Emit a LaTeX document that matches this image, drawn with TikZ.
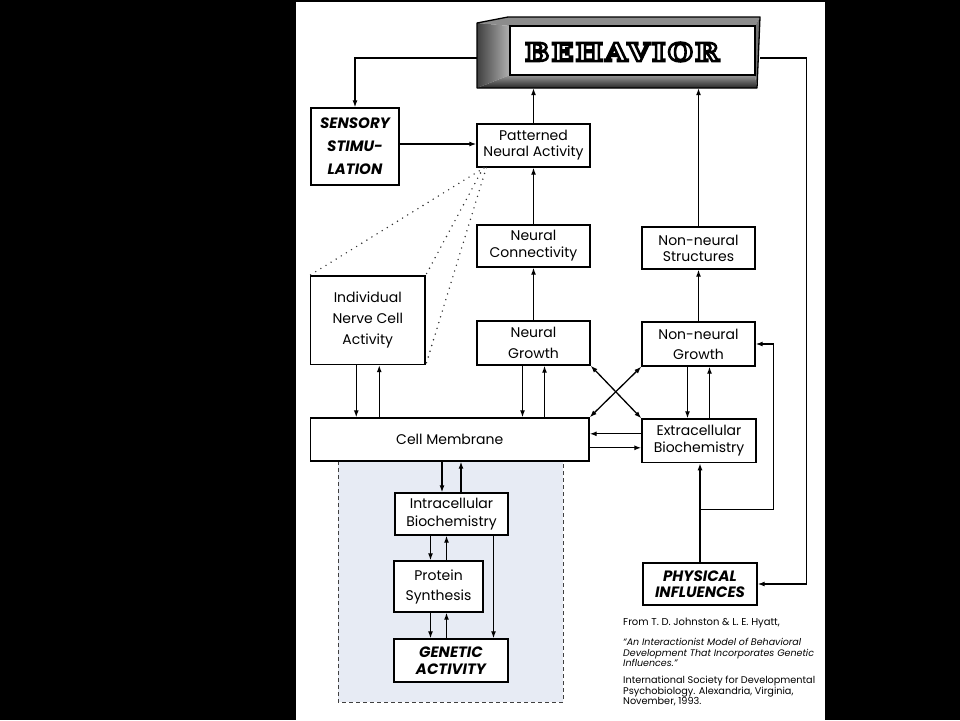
\documentclass[tikz,border=0pt]{standalone}
\usepackage{fontspec}
\setmainfont{Poppins}
\newfontfamily\behfont[FakeStretch=1.15, LetterSpace=9]{DejaVu Serif}
\usetikzlibrary{arrows.meta, positioning, calc}

\definecolor{regionblue}{HTML}{E7EBF4}

\begin{document}
\begin{tikzpicture}[x=1pt, y=-1pt,
    box/.style={rectangle, draw, line width=1.4pt, fill=white, align=center, inner sep=0pt, font=\fontsize{14}{17}\selectfont},
    caps/.style={box, font=\fontsize{15}{17}\selectfont\bfseries\itshape},
    arrow/.style={-{Latex[length=7pt, width=5pt]}, line width=1.3pt},
    darrow/.style={{Latex[length=7pt, width=5pt]}-{Latex[length=7pt, width=5pt]}, line width=1.3pt},
    dotted_line/.style={line width=1.6pt, dash pattern=on 0pt off 6pt, line cap=round, black!80},
    beh_text/.style={font=\behfont\bfseries\fontsize{25}{25}\selectfont, inner sep=0pt},
    cite/.style={align=left, anchor=west, inner sep=0pt, font=\fontsize{10}{10.6}\selectfont}
  ]
  \useasboundingbox (0,0) rectangle (960,720);

  % Page
  \fill[black] (0,0) rectangle (960,720);
  \fill[white] (296,2) rectangle (825,720);

  % Shaded cell interior
  \fill[regionblue] (338,461) rectangle (563,702);
  \draw[line width=1pt, dash pattern=on 4pt off 3pt, black!75] (338,461) -- (338,702) -- (563,702) -- (563,461);

  % Behavior box (3D frame)
  \node[minimum width=283pt, minimum height=71pt, inner sep=0pt] (behavior) at (618.5,52.5) {};
  \fill[black!45] (477,23) -- (508,17) -- (760,17) -- (755,26) -- (510,26) -- cycle;
  \shade[left color=black!75, right color=black!30] (477,23) -- (510,26) -- (510,75) -- (477,88) -- cycle;
  \shade[top color=black!40, bottom color=black!85] (477,88) -- (510,75) -- (755,75) -- (757,88) -- cycle;
  \fill[black!55] (755,26) -- (760,17) -- (757,88) -- (755,75) -- cycle;
  \draw[line width=1.3pt, line join=round] (477,23) -- (508,17) -- (760,17) -- (757,88) -- (477,88) -- cycle;
  \node[draw, line width=1.2pt, fill=white, minimum width=245pt, minimum height=49pt, inner sep=0pt] (beh_front) at (632.5,50.5) {};
  \coordinate (beh_mid) at (622,52);

  % Upper boxes
  \node[caps, minimum width=88pt, minimum height=77pt] (sensory) at (355,146.5) {SENSORY\\[6pt]STIMU-\\[6pt]LATION};
  \node[box, minimum width=113pt, minimum height=43pt] (patterned) at (533.5,145.5) {Patterned\\[-1pt]Neural Activity};
  \node[box, minimum width=113pt, minimum height=42pt] (neur_conn) at (533.5,246) {Neural\\Connectivity};
  \node[box, minimum width=113pt, minimum height=42pt] (nonneur_struct) at (698.5,248) {Non-neural\\[-1pt]Structures};

  % Middle boxes
  \node[box, minimum width=114.5pt, minimum height=88.5pt] (indiv) at (367.75,320.25) {Individual\\[4pt]Nerve Cell\\[4pt]Activity};
  \node[box, minimum width=113pt, minimum height=44pt] (neur_growth) at (533.5,343) {Neural\\[4pt]Growth};
  \node[box, minimum width=113pt, minimum height=44pt] (nonneur_growth) at (698.5,344) {Non-neural\\[3pt]Growth};
  \node[box, minimum width=278.5pt, minimum height=43pt] (cell_mem) at (449.75,439.5) {Cell Membrane};
  \node[box, minimum width=114pt, minimum height=43.6pt] (extra_bio) at (699,440.8) {Extracellular\\[0.5pt]Biochemistry};

  % Inside the cell
  \node[box, minimum width=113pt, minimum height=42pt] (intra_bio) at (451.5,514) {Intracellular\\[1.5pt]Biochemistry};
  \node[box, minimum width=89pt, minimum height=51pt] (protein) at (438.5,586.5) {Protein\\[3pt]Synthesis};
  \node[caps, minimum width=114pt, minimum height=43pt] (genetic) at (451,660.5) {GENETIC\\ACTIVITY};

  % Physical influences
  \node[caps, minimum width=114pt, minimum height=42pt] (physical) at (700,584) {PHYSICAL\\[-1pt]INFLUENCES};

  % Behavior feedback loops
  \draw[arrow] ([yshift=-5.5pt]behavior.west) -| (sensory.north);
  \draw[arrow] ([yshift=-5.5pt]behavior.east) -| ([xshift=49pt]physical.east) -- (physical.east);
  \draw[arrow] ([yshift=1.5pt]patterned.west -| sensory.east) -- ([yshift=1.5pt]patterned.west);

  % Columns up to behavior
  \draw[arrow] (patterned.north) -- (patterned.north |- behavior.south);
  \draw[arrow] (neur_conn.north) -- (patterned.south);
  \draw[arrow] (neur_growth.north) -- (neur_conn.south);
  \draw[arrow] (nonneur_growth.north) -- (nonneur_struct.south);
  \draw[arrow] (nonneur_struct.north) -- (nonneur_struct.north |- behavior.south);

  % Two-way pairs
  \foreach \src/\dst/\xref/\off in {indiv/cell_mem/indiv/11.5pt, neur_growth/cell_mem/neur_growth/11pt,
      nonneur_growth/extra_bio/nonneur_growth/11pt, cell_mem/intra_bio/intra_bio/9.5pt,
      intra_bio/protein/protein/8pt, protein/genetic/protein/8pt} {
      \draw[arrow] ([xshift=-\off]\xref.center |- \src.south) -- ([xshift=-\off]\xref.center |- \dst.north);
      \draw[arrow] ([xshift=\off]\xref.center |- \dst.north) -- ([xshift=\off]\xref.center |- \src.south);
    }
  \draw[arrow] ([xshift=42pt]intra_bio.south) -- ([xshift=42pt]intra_bio.south |- genetic.north);

  % Crossing arrows
  \draw[darrow] (neur_growth.south east) -- (extra_bio.north west);
  \draw[darrow] (nonneur_growth.south west) -- (cell_mem.north east);

  % Extracellular and membrane
  \draw[arrow] ([yshift=7pt]extra_bio.west) -- ([yshift=7pt]extra_bio.west -| cell_mem.east);
  \draw[arrow] ([yshift=-7pt]extra_bio.west -| cell_mem.east) -- ([yshift=-7pt]extra_bio.west);

  % Physical influences upward
  \draw[arrow] (physical.north) -- (physical.north |- extra_bio.south);
  \coordinate (junction) at ($(physical.north)+(0,-53)$);
  \draw[arrow] (junction) -| ([xshift=18pt]nonneur_growth.east) -- (nonneur_growth.east);

  % Dotted links
  \foreach \anc/\sx in {north west/8, north east/7, south east/10}
    \draw[dotted_line] ([xshift=\sx pt]patterned.south west) -- (indiv.\anc);

  % Source
  \node[cite] (cite_from) at (623,623) {From T. D. Johnston \& L. E. Hyatt,};
  \node[cite, font=\fontsize{9.5}{10.5}\selectfont\itshape] (cite_title) at (623,652.5) {“An Interactionist Model of Behavioral\\Development That Incorporates Genetic\\Influences.”};
  \node[cite, font=\fontsize{9.7}{10.6}\selectfont] (cite_soc) at (623,691) {International Society for Developmental\\Psychobiology. Alexandria, Virginia,\\November, 1993.};

  % Outlined title (white letters, black stroke)
  \node[beh_text] (beh_label) at (beh_mid) {\color{white}\special{pdf:literal 0 G 2 Tr 2.6 w}BEHAVIOR\special{pdf:literal 0 Tr}};

\end{tikzpicture}
\end{document}
